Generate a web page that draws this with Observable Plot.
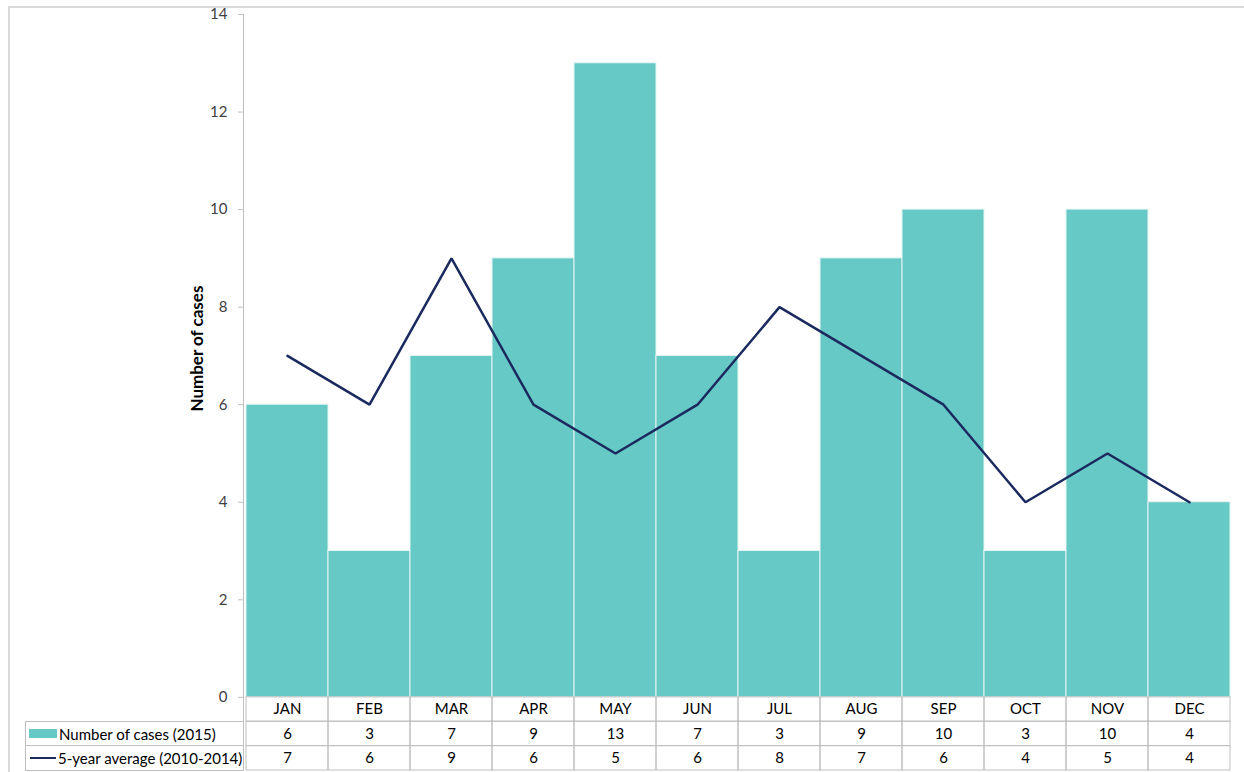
<!DOCTYPE html>
<html>
<head>
<meta charset="utf-8">
<script src="https://cdn.jsdelivr.net/npm/d3@7"></script>
<script src="https://cdn.jsdelivr.net/npm/@observablehq/plot@0.6"></script>
<style>
  body { margin: 0; background: #fff; font-family: Lato, "Open Sans", sans-serif; }
  #wrap { position: relative; width: 1244px; height: 772px; overflow: hidden; }
  #frame { position: absolute; left: 8px; top: 6px; right: 0; bottom: -4px;
           border-left: 2px solid #d9d9d9; border-top: 2px solid #d9d9d9; }
  #chart { position: absolute; left: 0; top: 0; }
  .hdr { position: absolute; left: 25px; width: 219px; height: 25px; box-sizing: border-box;
         border: 1px solid #bfbfbf; border-right: none; font-size: 15px; color: #000;
         display: flex; align-items: center; white-space: nowrap; }
  .sw-bar { width: 28px; height: 9px; background: #66c9c6; margin: 0 2px 0 3px; }
  .sw-line { width: 26px; height: 2px; background: #1b2a5e; margin: 0 2px 0 4px; }
</style>
</head>
<body>
<div id="wrap">
  <div id="frame"></div>
  <div id="chart"></div>
  <div class="hdr" id="h1" style="top:721px"><span class="sw-bar"></span><span id="t1"></span></div>
  <div class="hdr" id="h2" style="top:745px;height:26px"><span class="sw-line"></span><span id="t2"></span></div>
</div>
<script>
const months = ["JAN","FEB","MAR","APR","MAY","JUN","JUL","AUG","SEP","OCT","NOV","DEC"];
const cases2015 = [6, 3, 7, 9, 13, 7, 3, 9, 10, 3, 10, 4];
const avg5yr = [7, 6, 9, 6, 5, 6, 8, 7, 6, 4, 5, 4];
const yTicks = [0, 2, 4, 6, 8, 10, 12, 14];
const seriesLabels = ["Number of cases (2015)", "5-year average (2010-2014)"];
const yLabel = "Number of cases";

const data = months.map((m, i) => ({month: m, cases: cases2015[i], avg: avg5yr[i]}));

document.getElementById("t1").textContent = seriesLabels[0];
document.getElementById("t2").textContent = seriesLabels[1];

const chart = Plot.plot({
  width: 1244,
  height: 772,
  marginLeft: 243,
  marginRight: 12,
  marginTop: 14,
  marginBottom: 2,
  style: {fontFamily: "Lato, 'Open Sans', sans-serif", fontSize: "15px", color: "#404040", background: "transparent"},
  x: {type: "band", domain: months, padding: 0, axis: null},
  y: {domain: [-1.5, 14], axis: null},
  marks: [
    Plot.barY(data, {x: "month", y: "cases", fill: "#66c9c6", stroke: "#e4f4f3", strokeWidth: 1, insetLeft: 0, insetRight: 0}),
    Plot.lineY(data, {x: "month", y: "avg", stroke: "#1b2a5e", strokeWidth: 2.5, strokeLinejoin: "miter"}),
    Plot.axisY({ticks: yTicks, tickSize: 5, tickPadding: 11, stroke: "#bfbfbf", fill: "#404040", label: null, fontSize: 15}),
    Plot.frame({anchor: "left", stroke: "#bfbfbf"}),
    // table cells
    Plot.barY(data, {x: "month", y1: () => 0, y2: () => -0.5, fill: "none", stroke: "#bfbfbf", insetLeft: 0, insetRight: 0}),
    Plot.barY(data, {x: "month", y1: () => -0.5, y2: () => -1, fill: "none", stroke: "#bfbfbf", insetLeft: 0, insetRight: 0}),
    Plot.barY(data, {x: "month", y1: () => -1, y2: () => -1.5, fill: "none", stroke: "#bfbfbf", insetLeft: 0, insetRight: 0}),
    // table texts
    Plot.text(data, {x: "month", y: () => -0.25, text: "month", fill: "#000", fontSize: 15}),
    Plot.text(data, {x: "month", y: () => -0.75, text: d => String(d.cases), fill: "#000", fontSize: 15}),
    Plot.text(data, {x: "month", y: () => -1.25, text: d => String(d.avg), fill: "#000", fontSize: 15}),
    // y label
    Plot.text([yLabel], {frameAnchor: "left", textAnchor: "middle", y: () => 7.15, dx: -46, rotate: -90, text: d => d,
      fontWeight: "bold", fill: "#000", fontSize: 17})
  ]
});
document.getElementById("chart").appendChild(chart);
</script>
</body>
</html>
